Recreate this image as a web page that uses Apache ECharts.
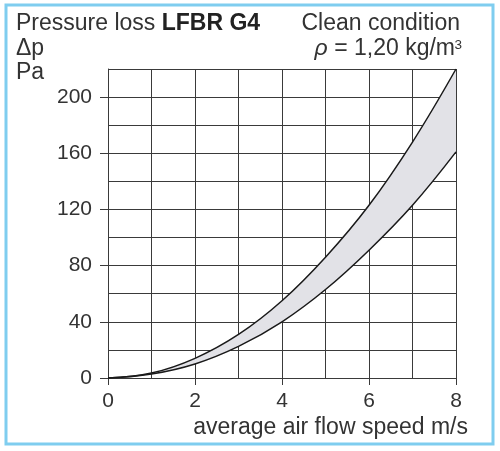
<!DOCTYPE html>
<html><head><meta charset="utf-8">
<script src="https://cdn.jsdelivr.net/npm/echarts@6/dist/echarts.min.js"></script>
<style>html,body{margin:0;padding:0;background:#fff}#c{width:500px;height:451px}</style>
</head><body><div id="c"></div>
<script>
const speeds = ['0', '1', '2', '3', '4', '5', '6', '7', '8'];
const upperLoss = [0, 3.5, 14, 31, 55, 86, 123, 168, 220];
const lowerLoss = [0, 2.8, 10, 22.5, 40, 63, 91, 123, 161];
const yTickLabels = [0, 40, 80, 120, 160, 200];

const bandData = upperLoss.map((u, i) => u - lowerLoss[i]);

const font = 'Liberation Sans, Arial, Helvetica, sans-serif';
const gridLine = { color: '#3a3a3a', width: 1 };
const chart = echarts.init(document.getElementById('c'), null, { renderer: 'canvas' });
chart.setOption({
  animation: false,
  backgroundColor: '#fff',
  grid: { left: 108, right: 44, top: 69, bottom: 73, containLabel: false },
  xAxis: {
    type: 'category', data: speeds, boundaryGap: false,
    axisLine: { show: true, lineStyle: gridLine },
    axisTick: { show: true, length: 7, interval: 1, lineStyle: gridLine },
    axisLabel: { interval: 1, color: '#333', fontSize: 21, fontFamily: font, margin: 13 },
    splitLine: { show: true, interval: 0, lineStyle: gridLine }
  },
  yAxis: [{
    type: 'value', min: 0, max: 220, interval: 20, position: 'left',
    axisLine: { show: true, lineStyle: gridLine },
    axisTick: { show: false },
    axisLabel: { show: false },
    splitLine: { show: true, lineStyle: gridLine }
  }, {
    type: 'value', min: 0, max: 220, interval: 20, position: 'left', offset: 0,
    axisLine: { show: false },
    axisTick: { show: true, length: 8, customValues: yTickLabels, lineStyle: gridLine },
    axisLabel: { customValues: yTickLabels, color: '#333', fontSize: 21, fontFamily: font, margin: 16 },
    splitLine: { show: false }
  }],
  series: [
    { type: 'line', data: lowerLoss, stack: 'band', smooth: 0.4, symbol: 'none', yAxisIndex: 0,
      lineStyle: { color: '#1a1a1a', width: 1.5 }, z: 3 },
    { type: 'line', data: bandData, stack: 'band', smooth: 0.4, symbol: 'none', yAxisIndex: 0,
      lineStyle: { color: '#1a1a1a', width: 1.5 },
      areaStyle: { color: '#e2e2e7', opacity: 1 }, z: 2 }
  ],
  graphic: [
    { type: 'rect', shape: { x: 6, y: 5, width: 487, height: 439 }, style: { fill: 'none', stroke: '#7fcdef', lineWidth: 3 }, z: 100 },
    { type: 'text', left: 16, top: 12.5, style: { rich: { r: { fontSize: 23, fontFamily: font, fill: '#333' }, b: { fontSize: 23, fontFamily: font, fontWeight: 'bold', fill: '#222' } }, text: '{r|Pressure loss }{b|LFBR G4}' } },
    { type: 'text', right: 40, top: 12.5, style: { text: 'Clean condition', fontSize: 23, fontFamily: font, fill: '#333', align: 'right' } },
    { type: 'text', right: 45, top: 37.5, style: { rich: { r: { fontSize: 23, fontFamily: font, fill: '#333' }, i: { fontSize: 23, fontFamily: font, fontStyle: 'italic', fill: '#333' } }, text: '{i|ρ}{r| = 1,20 kg/m}' } },
    { type: 'text', right: 38, top: 38, style: { text: '3', fontSize: 13.5, fontFamily: font, fill: '#333' } },
    { type: 'text', left: 16, top: 37.5, style: { text: 'Δp', fontSize: 23, fontFamily: font, fill: '#333' } },
    { type: 'text', left: 16, top: 61.5, style: { text: 'Pa', fontSize: 23, fontFamily: font, fill: '#333' } },
    { type: 'text', right: 32, top: 416.5, style: { text: 'average air flow speed m/s', fontSize: 23, fontFamily: font, fill: '#333', align: 'right' } }
  ]
});
</script></body></html>
